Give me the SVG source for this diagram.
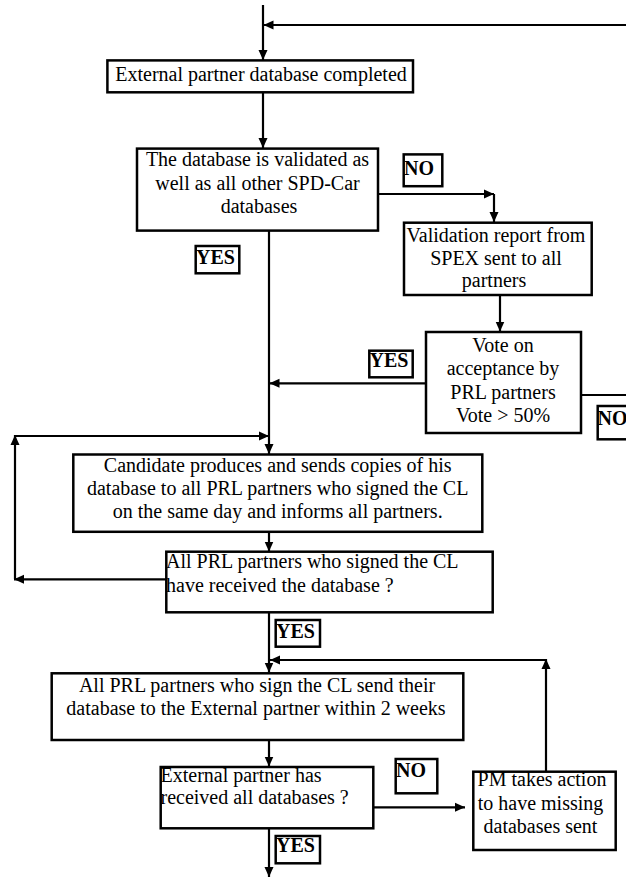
<svg xmlns="http://www.w3.org/2000/svg" width="626" height="878" viewBox="0 0 626 878">
<defs>
<marker id="ah" markerUnits="userSpaceOnUse" markerWidth="10" markerHeight="10" viewBox="0 0 10 10" refX="10" refY="5" orient="auto">
<path d="M0,0.5 L10,5 L0,9.5 Z" fill="#000"/>
</marker>
<style>
.box{fill:#fff;stroke:#000;stroke-width:2.5}
.lbl{fill:none;stroke:#000;stroke-width:2.5}
.t{font-family:"Liberation Serif","Times New Roman",serif;font-size:20px;fill:#000}
.c{text-anchor:middle}
.b{font-family:"Liberation Serif","Times New Roman",serif;font-size:20px;font-weight:bold;fill:#000}
.ln{fill:none;stroke:#000;stroke-width:2.2}
.ar{marker-end:url(#ah)}
</style>
</defs>
<rect width="626" height="878" fill="#fff"/>

<g id="connectors">
<path class="ln ar" d="M263,5 V60"/>
<path class="ln ar" d="M626,25 H263.5"/>
<path class="ln ar" d="M263,92.5 V148"/>
<path class="ln ar" d="M378,194 H494"/>
<path class="ln ar" d="M494,194 V222"/>
<path class="ln ar" d="M269,231 V454"/>
<path class="ln ar" d="M500,295 V331.5"/>
<path class="ln ar" d="M426,383.3 H269.5"/>
<path class="ln" d="M581,395 H626"/>
<path class="ln ar" d="M166,579.3 H14"/>
<path class="ln ar" d="M15,579.3 V435"/>
<path class="ln ar" d="M14,436 H269"/>
<path class="ln ar" d="M269,532 V551.5"/>
<path class="ln ar" d="M269,612.5 V672.5"/>
<path class="ln ar" d="M546,771.5 V659"/>
<path class="ln ar" d="M547,660 H270"/>
<path class="ln ar" d="M269,740.5 V766.5"/>
<path class="ln ar" d="M373.5,807.3 H465"/>
<path class="ln ar" d="M269,828.5 V877"/>
</g>

<g id="n1">
<rect class="box" x="107.4" y="60.4" width="305.6" height="31.9"/>
<text class="t c" x="261" y="80.5">External partner  database completed</text>
</g>

<g id="n2">
<rect class="box" x="137" y="148.6" width="241" height="82"/>
<text class="t c" x="257.5" y="166">The database is validated as</text>
<text class="t c" x="257.5" y="189.6">well as all other SPD-Car</text>
<text class="t c" x="259" y="213">databases</text>
</g>

<g id="n3">
<rect class="box" x="404" y="222.7" width="187.7" height="72.3"/>
<text class="t c" x="496" y="241.7">Validation report from</text>
<text class="t c" x="496" y="265">SPEX sent to all</text>
<text class="t c" x="494" y="287">partners</text>
</g>

<g id="n4">
<rect class="box" x="426" y="332" width="155" height="101"/>
<text class="t c" x="503" y="352">Vote on</text>
<text class="t c" x="503" y="375">acceptance by</text>
<text class="t c" x="503" y="398.5">PRL partners</text>
<text class="t c" x="503" y="422">Vote &gt; 50%</text>
</g>

<g id="n5">
<rect class="box" x="73.3" y="454.5" width="409" height="77.3"/>
<text class="t c" x="277.7" y="471.7">Candidate produces and sends copies of his</text>
<text class="t c" x="277.7" y="495">database to all PRL partners who signed the CL</text>
<text class="t c" x="277.7" y="518.3">on the same day and informs all partners.</text>
</g>

<g id="n6">
<rect class="box" x="166.3" y="551.7" width="326.4" height="60.6"/>
<text class="t" x="166" y="568.3">All PRL partners who signed the CL</text>
<text class="t" x="166" y="591.7">have received the database ?</text>
</g>

<g id="n7">
<rect class="box" x="51.7" y="673.3" width="411.6" height="66.7"/>
<text class="t c" x="257" y="691.7">All PRL partners who sign the CL send their</text>
<text class="t c" x="256" y="715">database to the External partner within 2 weeks</text>
</g>

<g id="n8">
<rect class="box" x="160.7" y="767" width="212.6" height="61.3"/>
<text class="t" x="160.5" y="781.7">External partner has</text>
<text class="t" x="160.5" y="804">received all databases ?</text>
</g>

<g id="n9">
<rect class="box" x="473.3" y="771.7" width="142.4" height="78.3"/>
<text class="t c" x="542" y="786">PM takes action</text>
<text class="t c" x="540.5" y="810">to have missing</text>
<text class="t c" x="540.5" y="833.3">databases sent</text>
</g>

<g id="labels">
<g id="l-no1"><text class="b" x="404" y="174.5">NO</text><rect class="lbl" x="403.7" y="154.4" width="38.6" height="31.8"/></g>
<g id="l-yes1"><text class="b" x="196" y="264">YES</text><rect class="lbl" x="195.7" y="246" width="43.6" height="27.3"/></g>
<g id="l-yes2"><text class="b" x="369.5" y="367">YES</text><rect class="lbl" x="369.3" y="350.7" width="43.4" height="26.6"/></g>
<g id="l-no2"><text class="b" x="597.5" y="425" font-size="18.5">NO</text><rect class="lbl" x="597.7" y="406" width="40" height="33.3"/></g>
<g id="l-yes3"><text class="b" x="276" y="638">YES</text><rect class="lbl" x="275.7" y="620" width="44.3" height="26.7"/></g>
<g id="l-no3"><text class="b" x="396" y="777">NO</text><rect class="lbl" x="395.7" y="759" width="41.6" height="34.3"/></g>
<g id="l-yes4"><text class="b" x="276" y="852">YES</text><rect class="lbl" x="275.7" y="836" width="44.3" height="27.3"/></g>
</g>
</svg>
